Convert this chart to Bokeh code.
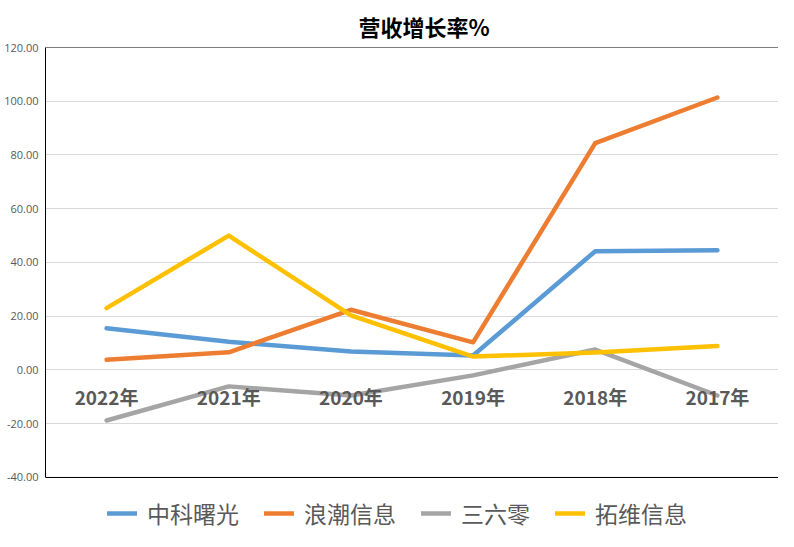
from bokeh.plotting import figure
from bokeh.models import (FactorRange, Range1d, FixedTicker, NumeralTickFormatter,
                          Legend, LegendItem, ColumnDataSource, LinearAxis, Span)
from bokeh.core.properties import value
from bokeh.embed import file_html
from bokeh.resources import INLINE

years = ["2022年", "2021年", "2020年", "2019年", "2018年", "2017年"]
zhongke = [15.5, 10.5, 6.9, 5.4, 44.2, 44.6]
langchao = [3.8, 6.6, 22.4, 10.3, 84.4, 101.4]
sanliuling = [-18.8, -6.1, -9.5, -2.0, 7.6, -9.5]
tuowei = [23.0, 50.0, 20.3, 5.0, 6.5, 8.9]
series_names = ["中科曙光", "浪潮信息", "三六零", "拓维信息"]
colors = ["#5B9BD5", "#ED7D31", "#A5A5A5", "#FFC000"]
y_ticks = [-40, -20, 0, 20, 40, 60, 80, 100, 120]

Y_MIN, Y_MAX = min(y_ticks), max(y_ticks)
EXTRA_BELOW = 20.1  # room under the axis box for the legend

p = figure(width=778, height=531, x_range=FactorRange(factors=years, range_padding=0),
           y_range=Range1d(Y_MIN - EXTRA_BELOW, Y_MAX), output_backend="svg",
           toolbar_location=None,
           min_border_left=45, min_border_right=0, min_border_top=47, min_border_bottom=0)

p.title.text = "营收增长率%"
p.title.align = "left"
p.title.offset = 313
p.title.standoff = 12
p.title.text_font = "Noto Sans CJK SC"
p.title.text_font_size = "22px"
p.title.text_font_style = "bold"
p.title.text_color = "#000000"

p.outline_line_color = None
p.xgrid.visible = False
p.ygrid.grid_line_color = "#d9d9d9"
p.ygrid.grid_line_width = 1

p.xaxis.visible = False
p.yaxis.ticker = FixedTicker(ticks=y_ticks)
p.yaxis.formatter = NumeralTickFormatter(format="0.00")
p.yaxis.bounds = (Y_MIN, Y_MAX)
p.yaxis.axis_line_color = "black"
p.yaxis.axis_line_width = 1
p.yaxis.major_tick_line_color = None
p.yaxis.minor_tick_line_color = None
p.yaxis.major_tick_out = 0
p.yaxis.major_tick_in = 0
p.yaxis.minor_tick_out = 0
p.yaxis.major_label_standoff = 7
p.yaxis.major_label_text_font = "Open Sans"
p.yaxis.major_label_text_font_size = "11px"
p.yaxis.major_label_text_color = "#595959"

right_axis = LinearAxis(ticker=FixedTicker(ticks=[]), bounds=(Y_MIN, Y_MAX),
                        axis_line_color="black", axis_line_width=1,
                        major_tick_line_color=None, minor_tick_line_color=None,
                        major_tick_out=0, minor_tick_out=0,
                        major_label_text_font_size="0px")
p.add_layout(right_axis, "right")

p.add_layout(Span(location=Y_MAX, dimension="width", line_color="black", line_width=1))
p.add_layout(Span(location=Y_MIN, dimension="width", line_color="black", line_width=1))

items = []
for name, vals, c in zip(series_names, [zhongke, langchao, sanliuling, tuowei], colors):
    r = p.line(years, vals, line_color=c, line_width=4.5, line_join="round", line_cap="round")
    items.append(LegendItem(label=name, renderers=[r]))

src = ColumnDataSource(dict(x=years, y=[0] * len(years)))
p.text(x="x", y="y", text="x", source=src, text_font=value("Noto Sans CJK SC"),
       text_font_size="19px", text_font_style="bold", text_color="#595959",
       text_align="center", text_baseline="middle", y_offset=27)

legend = Legend(items=items, orientation="horizontal", location=(62, 1),
                label_text_font="Noto Sans CJK SC", label_text_font_size="23px",
                label_text_color="#595959", glyph_width=30, glyph_height=22,
                label_standoff=10, spacing=25, padding=0, margin=0,
                border_line_color=None, background_fill_alpha=0)
p.add_layout(legend, "center")

open("out.html", "w").write(file_html(p, INLINE))
